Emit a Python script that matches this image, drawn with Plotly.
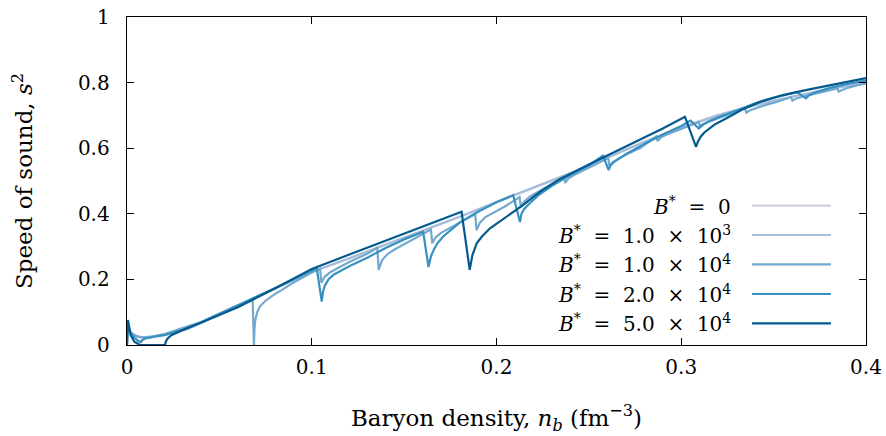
import plotly.graph_objects as go

# ---------------- data ----------------
NB = "&nbsp;"
legend_labels = [
    f"<i>B</i><sup>*</sup>{NB}{NB}={NB}{NB}0",
    f"<i>B</i><sup>*</sup>{NB}{NB}={NB}{NB}1.0{NB}{NB}×{NB}{NB}10<sup>3</sup>",
    f"<i>B</i><sup>*</sup>{NB}{NB}={NB}{NB}1.0{NB}{NB}×{NB}{NB}10<sup>4</sup>",
    f"<i>B</i><sup>*</sup>{NB}{NB}={NB}{NB}2.0{NB}{NB}×{NB}{NB}10<sup>4</sup>",
    f"<i>B</i><sup>*</sup>{NB}{NB}={NB}{NB}5.0{NB}{NB}×{NB}{NB}10<sup>4</sup>",
]

x_ticks = [0, 0.1, 0.2, 0.3, 0.4]
x_tick_text = ["0", "0.1", "0.2", "0.3", "0.4"]
y_ticks = [0, 0.2, 0.4, 0.6, 0.8, 1.0]
y_tick_text = ["0", "0.2", "0.4", "0.6", "0.8", "1"]

# B* = 0
n_b0 = [0.0, 0.002, 0.005, 0.009, 0.015, 0.0206, 0.026, 0.0325, 0.04, 0.05, 0.06, 0.07,
        0.08, 0.09, 0.10, 0.12, 0.14, 0.16, 0.18, 0.20, 0.22, 0.24, 0.26, 0.28, 0.30,
        0.32, 0.34, 0.36, 0.38, 0.40]
s2_b0 = [0.05, 0.037, 0.027, 0.021, 0.025, 0.030, 0.038, 0.048, 0.068, 0.095, 0.120, 0.146,
         0.171, 0.197, 0.222, 0.263, 0.305, 0.348, 0.390, 0.435, 0.478, 0.523, 0.572, 0.620,
         0.664, 0.702, 0.733, 0.758, 0.781, 0.800]

# B* = 1.0e3
n_b1 = [0.0, 0.002, 0.005, 0.009, 0.015, 0.0206, 0.026, 0.0325, 0.04, 0.05, 0.06, 0.07,
        0.08, 0.09, 0.10, 0.12, 0.14, 0.16, 0.18, 0.20, 0.22, 0.24, 0.26, 0.28, 0.30,
        0.32, 0.34, 0.36, 0.38, 0.40]
s2_b1 = [0.052, 0.038, 0.028, 0.022, 0.025, 0.031, 0.039, 0.049, 0.069, 0.096, 0.121, 0.147,
         0.172, 0.198, 0.223, 0.264, 0.306, 0.349, 0.391, 0.436, 0.479, 0.524, 0.571, 0.619,
         0.662, 0.700, 0.731, 0.757, 0.780, 0.799]

# B* = 1.0e4
n_b2 = [0.0, 0.003, 0.006, 0.01, 0.015, 0.02, 0.03, 0.04, 0.05, 0.06, 0.068, 0.0687, 0.069,
        0.0695, 0.0705, 0.072, 0.075, 0.08, 0.085, 0.09, 0.10, 0.1045, 0.1052, 0.107, 0.11,
        0.115, 0.12, 0.13, 0.1355, 0.1362, 0.138, 0.141, 0.145, 0.15, 0.16, 0.1645, 0.1652,
        0.167, 0.17, 0.175, 0.18, 0.1885, 0.1892, 0.191, 0.194, 0.198, 0.205, 0.2125, 0.2132,
        0.215, 0.218, 0.222, 0.23, 0.2365, 0.2372, 0.239, 0.242, 0.246, 0.254, 0.2605, 0.2612,
        0.263, 0.266, 0.27, 0.278, 0.2865, 0.2872, 0.289, 0.292, 0.296, 0.303, 0.3095, 0.3102,
        0.312, 0.315, 0.319, 0.327, 0.3345, 0.3352, 0.337, 0.34, 0.344, 0.352, 0.3595, 0.3602,
        0.362, 0.365, 0.37, 0.377, 0.3845, 0.3852, 0.387, 0.39, 0.395, 0.40]
s2_b2 = [0.05, 0.033, 0.025, 0.024, 0.027, 0.033, 0.052, 0.070, 0.096, 0.121, 0.138, 0.0, 0.05,
         0.078, 0.100, 0.118, 0.135, 0.155, 0.172, 0.190, 0.221, 0.233, 0.190, 0.208, 0.222,
         0.238, 0.252, 0.278, 0.296, 0.229, 0.258, 0.277, 0.292, 0.307, 0.338, 0.352, 0.310,
         0.328, 0.342, 0.358, 0.372, 0.399, 0.350, 0.373, 0.390, 0.403, 0.424, 0.451, 0.420,
         0.437, 0.452, 0.465, 0.492, 0.513, 0.494, 0.508, 0.518, 0.530, 0.552, 0.570, 0.545,
         0.558, 0.568, 0.580, 0.601, 0.636, 0.622, 0.633, 0.641, 0.650, 0.664, 0.680, 0.664,
         0.672, 0.681, 0.690, 0.706, 0.721, 0.708, 0.715, 0.722, 0.729, 0.742, 0.756, 0.745,
         0.751, 0.756, 0.763, 0.772, 0.782, 0.773, 0.778, 0.784, 0.791, 0.798]

# B* = 2.0e4
n_b3 = [0.0, 0.0005, 0.002, 0.004, 0.006, 0.0075, 0.0085, 0.01, 0.015, 0.0206, 0.026, 0.0325,
        0.04, 0.05, 0.06, 0.07, 0.08, 0.09, 0.1027, 0.1054, 0.106, 0.107, 0.109, 0.112, 0.116,
        0.122, 0.13, 0.14, 0.15, 0.1603, 0.1632, 0.1645, 0.166, 0.168, 0.171, 0.175, 0.18,
        0.19, 0.20, 0.209, 0.2127, 0.2135, 0.215, 0.218, 0.223, 0.23, 0.24, 0.25, 0.2577,
        0.2607, 0.2617, 0.264, 0.27, 0.28, 0.29, 0.30, 0.305, 0.3095, 0.311, 0.315, 0.32, 0.33,
        0.34, 0.35, 0.3626, 0.3675, 0.369, 0.372, 0.38, 0.39, 0.40]
s2_b3 = [0.0, 0.060, 0.036, 0.022, 0.013, 0.009, 0.016, 0.020, 0.026, 0.031, 0.040, 0.050,
         0.068, 0.095, 0.121, 0.147, 0.173, 0.200, 0.234, 0.132, 0.160, 0.180, 0.200, 0.215,
         0.228, 0.245, 0.266, 0.296, 0.322, 0.345, 0.238, 0.270, 0.290, 0.310, 0.330, 0.350,
         0.373, 0.406, 0.435, 0.457, 0.375, 0.400, 0.415, 0.432, 0.458, 0.485, 0.518, 0.548,
         0.577, 0.533, 0.548, 0.560, 0.582, 0.613, 0.642, 0.668, 0.684, 0.660, 0.670, 0.682,
         0.694, 0.715, 0.737, 0.754, 0.771, 0.752, 0.761, 0.769, 0.783, 0.796, 0.806]

# B* = 5.0e4
n_b4 = [0.0, 0.0005, 0.002, 0.004, 0.007, 0.0206, 0.021, 0.022, 0.024, 0.027, 0.032, 0.04,
        0.05, 0.06, 0.08, 0.10, 0.12, 0.14, 0.16, 0.1811, 0.1855, 0.186, 0.187, 0.1893, 0.192,
        0.1965, 0.2055, 0.2145, 0.2235, 0.234, 0.25, 0.27, 0.29, 0.302, 0.308, 0.309, 0.3105,
        0.3125, 0.318, 0.325, 0.333, 0.343, 0.355, 0.368, 0.385, 0.40]
s2_b4 = [0.0, 0.076, 0.030, 0.010, 0.0, 0.0, 0.010, 0.020, 0.030, 0.038, 0.050, 0.068,
         0.092, 0.115, 0.172, 0.232, 0.275, 0.318, 0.361, 0.406, 0.229, 0.250, 0.275, 0.310, 0.330,
         0.356, 0.391, 0.427, 0.467, 0.505, 0.550, 0.605, 0.660, 0.696, 0.604, 0.620, 0.635,
         0.648, 0.672, 0.693, 0.718, 0.742, 0.762, 0.778, 0.797, 0.814]

series_x = [n_b0, n_b1, n_b2, n_b3, n_b4]
series_y = [s2_b0, s2_b1, s2_b2, s2_b3, s2_b4]
colors = ["#cdcfe5", "#a6bddb", "#74a9cf", "#3690c0", "#045a8d"]

# ---------------- figure ----------------
FONT = "DejaVu Serif"
fig = go.Figure()
for xs, ys, c, name in zip(series_x, series_y, colors, legend_labels):
    fig.add_trace(go.Scatter(x=xs, y=ys, mode="lines", name=name,
                             line=dict(color=c, width=2.2), showlegend=False,
                             hoverinfo="skip"))

# legend drawn manually: text right-aligned, sample line on the right
leg_y = [0.4247, 0.3354, 0.246, 0.1555, 0.0662]
for lab, c, yy in zip(legend_labels, colors, leg_y):
    fig.add_annotation(x=0.8200, y=yy, xref="paper", yref="paper", text=lab,
                       showarrow=False, xanchor="right", yanchor="middle",
                       font=dict(family=FONT, size=20, color="black"))
    fig.add_shape(type="line", xref="paper", yref="paper", x0=0.8457, x1=0.9526,
                  y0=yy, y1=yy, line=dict(color=c, width=2.2))

axis_common = dict(showline=True, linecolor="black", linewidth=1.3, mirror="ticks",
                   ticks="inside", ticklen=7, tickwidth=1.2, tickcolor="black",
                   showgrid=False, zeroline=False, automargin=False,
                   ticklabeloverflow="allow",
                   tickfont=dict(family=FONT, size=20, color="black"))

fig.update_xaxes(range=[0, 0.4], tickvals=x_ticks, ticktext=x_tick_text,
                 ticklabelstandoff=4,
                 title=dict(text="Baryon density, <i>n<sub>b</sub></i> (fm<sup>−3</sup>)",
                            font=dict(family=FONT, size=23, color="black"), standoff=31),
                 **axis_common)
fig.update_yaxes(range=[0, 1], tickvals=y_ticks, ticktext=y_tick_text,
                 ticklabelstandoff=12,
                 title=dict(text="Speed of sound, <i>s</i><sup>2</sup>",
                            font=dict(family=FONT, size=23, color="black"), standoff=38),
                 **axis_common)

fig.update_layout(width=886, height=436, margin=dict(l=127, r=20, t=17, b=91),
                  plot_bgcolor="white", paper_bgcolor="white",
                  font=dict(family=FONT, size=20, color="black"))

# remove the default 8px page margin so the figure fills the window exactly
fig.write_html("out.html",
               config={"displayModeBar": False, "staticPlot": True},
               post_script="document.body.style.margin='0';document.body.style.overflow='hidden';")
